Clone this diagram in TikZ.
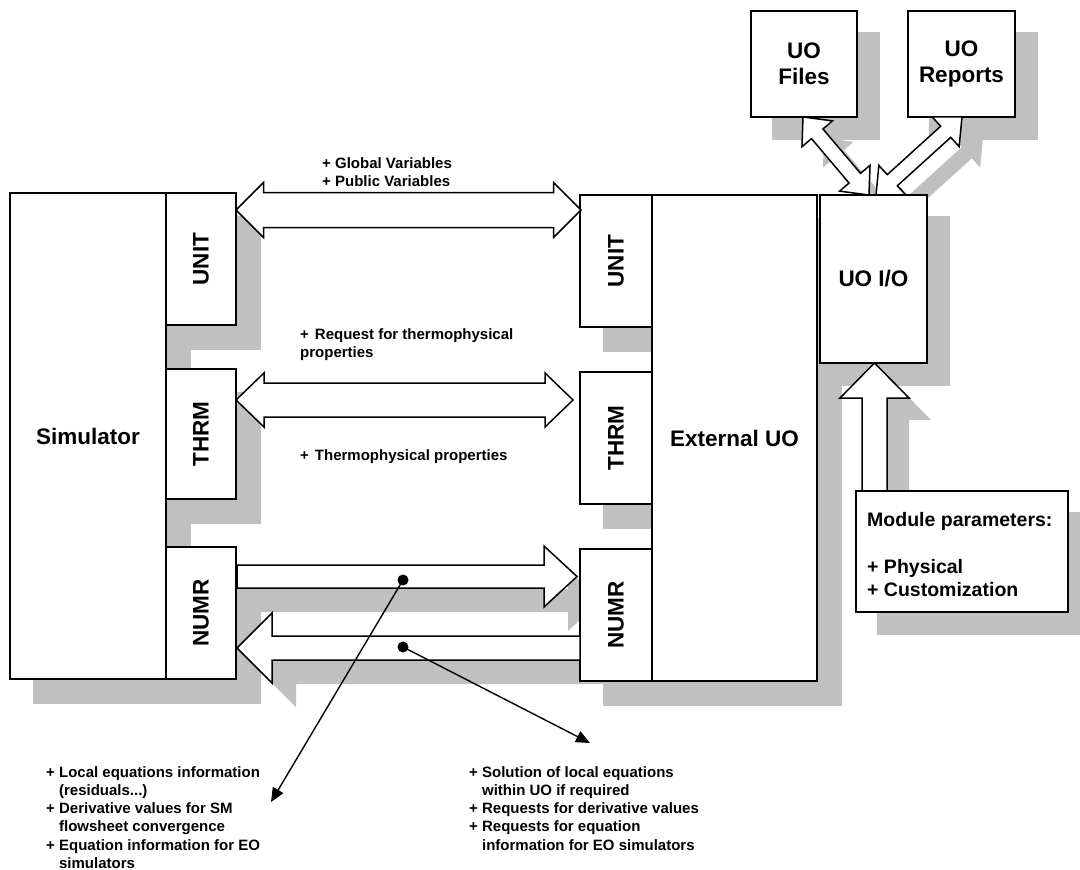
\documentclass[tikz,border=0pt]{standalone}
\usepackage{fontspec}
\setmainfont{Liberation Sans}
\usetikzlibrary{calc,arrows.meta}
\pgfdeclarelayer{background}
\pgfsetlayers{background,main}
\definecolor{shadowc}{RGB}{192,192,192}
\newcommand\setfs[2]{\fontsize{#1pt}{#2pt}\selectfont}
% block arrow: #1 style, #2 offset, #3 tail, #4 tip, #5 shaft half width,
% #6 head half width, #7 head length, #8 number of heads (1 or 2)
\newcommand\blockarrow[8]{%
  \ifnum#8=2
  \path[#1] let \p1=($(#4)-(#3)$), \n1={atan2(\y1,\x1)} in
    ($(#3)+#2$)
    -- ($(#3)+#2+(\n1:#7pt)+(\n1+90:#6pt)$)
    -- ($(#3)+#2+(\n1:#7pt)+(\n1+90:#5pt)$)
    -- ($(#4)+#2+(\n1+180:#7pt)+(\n1+90:#5pt)$)
    -- ($(#4)+#2+(\n1+180:#7pt)+(\n1+90:#6pt)$)
    -- ($(#4)+#2$)
    -- ($(#4)+#2+(\n1+180:#7pt)+(\n1-90:#6pt)$)
    -- ($(#4)+#2+(\n1+180:#7pt)+(\n1-90:#5pt)$)
    -- ($(#3)+#2+(\n1:#7pt)+(\n1-90:#5pt)$)
    -- ($(#3)+#2+(\n1:#7pt)+(\n1-90:#6pt)$)
    -- cycle;
  \else
  \path[#1] let \p1=($(#4)-(#3)$), \n1={atan2(\y1,\x1)} in
    ($(#3)+#2+(\n1+90:#5pt)$)
    -- ($(#4)+#2+(\n1+180:#7pt)+(\n1+90:#5pt)$)
    -- ($(#4)+#2+(\n1+180:#7pt)+(\n1+90:#6pt)$)
    -- ($(#4)+#2$)
    -- ($(#4)+#2+(\n1+180:#7pt)+(\n1-90:#6pt)$)
    -- ($(#4)+#2+(\n1+180:#7pt)+(\n1-90:#5pt)$)
    -- ($(#3)+#2+(\n1-90:#5pt)$)
    -- cycle;
  \fi}
\begin{document}
\begin{tikzpicture}[x=1pt,y=-1pt,
  box/.style={draw=black, fill=white, line width=1.5pt, inner sep=0pt,
    font=\bfseries\setfs{22.5}{26}, align=center},
  blockarr/.style={draw=black, fill=white, line width=1.5pt, line join=miter},
  arrshadow/.style={fill=shadowc},
  note/.style={font=\bfseries\setfs{15}{18.3}, align=left, inner sep=0pt, anchor=north west},
  dot/.style={circle, fill=black, inner sep=0pt, minimum size=11pt},
  pointer/.style={line width=1.4pt, -{Triangle[length=14pt,width=12pt]}}]
\useasboundingbox (0,0) rectangle (1080,870);

% simulator side
\node[box, minimum width=156, minimum height=486] (sim) at (88,436) {Simulator};
\node[box, minimum width=70, minimum height=132] (sunit) at (201,259) {\rotatebox{90}{UNIT}};
\node[box, minimum width=70, minimum height=130] (sthrm) at (201,434) {\rotatebox{90}{THRM}};
\node[box, minimum width=70, minimum height=132] (snumr) at (201,613) {\rotatebox{90}{NUMR}};

% external unit operation side
\node[box, minimum width=72, minimum height=132] (eunit) at (616,261) {\rotatebox{90}{UNIT}};
\node[box, minimum width=72, minimum height=132] (ethrm) at (616,438) {\rotatebox{90}{THRM}};
\node[box, minimum width=72, minimum height=132] (enumr) at (616,615) {\rotatebox{90}{NUMR}};
\node[box, minimum width=165, minimum height=486] (ext) at (734.5,438) {External UO};

% I/O part
\node[box, minimum width=106, minimum height=106] (files) at (804,64) {UO\\Files};
\node[box, minimum width=107, minimum height=106] (reports) at (961.5,64) {UO\\Reports};

% arrow end points
\coordinate (ua) at (236,210);   \coordinate (ub) at (581,210);
\coordinate (ta) at (236,400);   \coordinate (tb) at (573,400);
\coordinate (na) at (237,576.5); \coordinate (nb) at (577,576.5);
\coordinate (nc) at (580,648);   \coordinate (nd) at (237,648);
\coordinate (ma) at (874.5,491); \coordinate (mb) at (874.5,363);
\coordinate (fa) at (869,195);   \coordinate (fb) at (803,117);
\coordinate (ra) at (876,195);   \coordinate (rb) at (962,117);

% block arrows
\blockarrow{blockarr}{(0,0)}{ua}{ub}{17.5}{27.5}{27.5}{2}
\blockarrow{blockarr}{(0,0)}{ta}{tb}{17}{27}{28}{2}
\blockarrow{blockarr}{(0,0)}{na}{nb}{11.5}{30.5}{33}{1}
\blockarrow{blockarr}{(0,0)}{nc}{nd}{12}{35}{35}{1}
\blockarrow{blockarr}{(0,0)}{ma}{mb}{12.5}{34.5}{35}{1}
\blockarrow{blockarr}{(0,0)}{ra}{rb}{7.5}{20}{22}{2}
\blockarrow{blockarr}{(0,0)}{fa}{fb}{7.5}{20}{22}{2}

\node[box, minimum width=107, minimum height=168] (uoio) at (873.5,279) {UO I/O};
\node[box, minimum width=212, minimum height=121] (modp) at (962,551.5) {};
\node[note, font=\bfseries\setfs{19.5}{23.5}] (modtext) at (867,512)
  {Module parameters:\\\mbox{}\\+ Physical\\+ Customization};

% shadows
\begin{pgfonlayer}{background}
  \foreach \n in {sim,sunit,sthrm,snumr,eunit,ethrm,enumr,ext}
    \fill[shadowc] ($(\n.north west)+(24,24)$) rectangle ($(\n.south east)+(24,24)$);
  \foreach \n in {uoio,files,reports,modp}
    \fill[shadowc] ($(\n.north west)+(22,22)$) rectangle ($(\n.south east)+(22,22)$);
  \blockarrow{arrshadow}{(24,24)}{na}{nb}{11.5}{30.5}{33}{1}
  \blockarrow{arrshadow}{(24,24)}{nc}{nd}{12}{35}{35}{1}
  \blockarrow{arrshadow}{(22,22)}{ma}{mb}{12.5}{34.5}{35}{1}
  \blockarrow{arrshadow}{(21,21)}{ra}{rb}{7.5}{20}{22}{2}
  \blockarrow{arrshadow}{(21,21)}{fa}{fb}{7.5}{20}{22}{2}
\end{pgfonlayer}

% labels
\node[note] (gv) at (322,157) {+ Global Variables\\+ Public Variables};
\node[note] (rq) at (300,328) {+\hspace{6pt}Request for thermophysical\\properties};
\node[note] (tp) at (300,449) {+\hspace{6pt}Thermophysical properties};

% pointers from the numerical links
\node[dot] (d1) at (403,580) {};
\node[dot] (d2) at (403,647) {};
\coordinate (e1) at (271,802);
\coordinate (e2) at (590,743);
\draw[pointer] (d1.center) -- (e1);
\draw[pointer] (d2.center) -- (e2);

\node[note] (lq) at (46,766) {+ Local equations information\\
  \hphantom{+ }(residuals...)\\
  + Derivative values for SM\\
  \hphantom{+ }flowsheet convergence\\
  + Equation information for EO\\
  \hphantom{+ }simulators};
\node[note] (sq) at (469,766) {+ Solution of local equations\\
  \hphantom{+ }within UO if required\\
  + Requests for derivative values\\
  + Requests for equation\\
  \hphantom{+ }information for EO simulators};
\end{tikzpicture}
\end{document}
